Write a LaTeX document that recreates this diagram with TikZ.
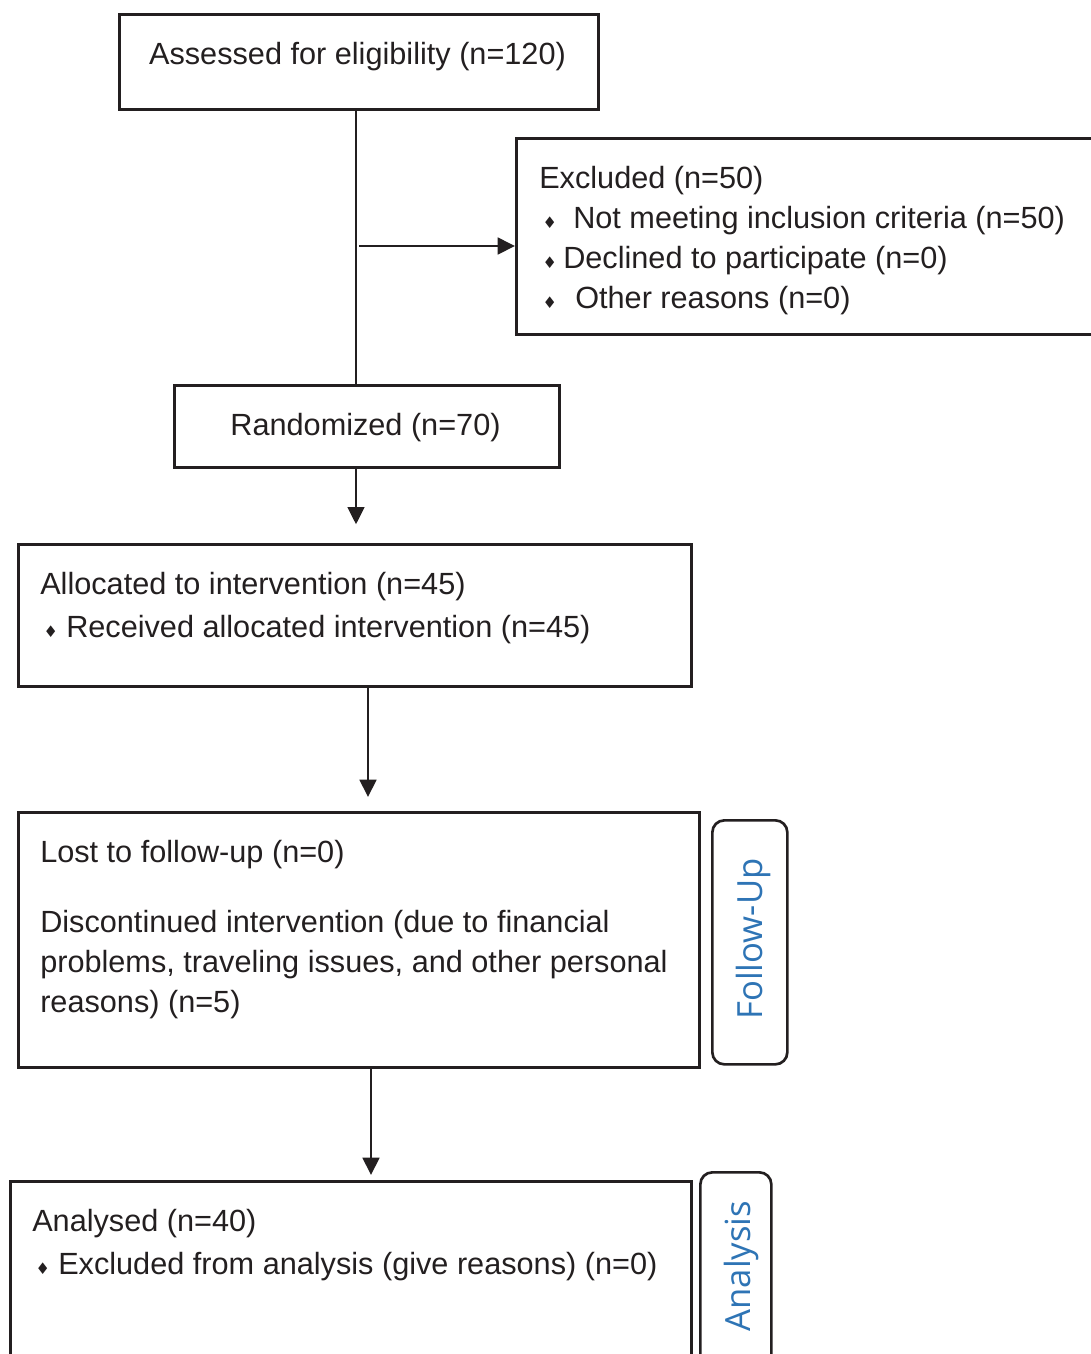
\documentclass[tikz,border=0pt]{standalone}
\usepackage{fontspec}
\setmainfont{Liberation Sans}
\newfontfamily\sidefont{Open Sans}
\newfontfamily\symfont{DejaVu Sans}
\usetikzlibrary{arrows.meta}
\definecolor{sideblue}{RGB}{46,116,181}
\definecolor{ink}{RGB}{35,31,32}
\newcommand{\dia}[1]{\makebox[#1][l]{\hspace{2.5pt}{\symfont\fontsize{12pt}{12pt}\selectfont ♦}}}
\tikzset{
  box/.style={draw=ink, line width=2pt, inner sep=0pt, anchor=north west},
  sidebox/.style={draw=ink, line width=2pt, rounded corners=9pt, inner sep=0pt, anchor=north west},
  txt/.style={inner sep=0pt, anchor=base west, align=left, text=ink, font=\fontsize{23pt}{30pt}\selectfont},
  sidetxt/.style={inner sep=0pt, rotate=90, text=sideblue, font=\sidefont\fontsize{26pt}{26pt}\selectfont},
  arr/.style={draw=ink, line width=2pt, -{Triangle[length=13pt,width=12.5pt]}},
  link/.style={draw=ink, line width=2pt}
}
\begin{document}
\begin{tikzpicture}[x=0.75pt,y=0.75pt,yscale=-1,xscale=1]
        \useasboundingbox (0,0) rectangle (1091,1354);
        \clip (0,0) rectangle (1091,1354);
        %Shape: Rectangle
        \node[box, minimum width=359.25pt, minimum height=71.25pt] (assess) at (118,13) {};
        %Shape: Rectangle
        \node[box, minimum width=450pt, minimum height=147pt] (excl) at (515,137) {};
        %Shape: Rectangle
        \node[box, minimum width=288.75pt, minimum height=61.5pt] (rand) at (173,384) {};
        %Shape: Rectangle
        \node[box, minimum width=504.75pt, minimum height=106.5pt] (alloc) at (17,543) {};
        %Shape: Rectangle
        \node[box, minimum width=510.75pt, minimum height=191.25pt] (lost) at (17,811) {};
        %Shape: Rectangle
        \node[box, minimum width=510.75pt, minimum height=187.5pt] (anal) at (9,1180) {};
        %Shape: Rounded Rect
        \node[sidebox, minimum width=56.25pt, minimum height=183pt] (follow) at (711,819) {};
        %Shape: Rounded Rect
        \node[sidebox, minimum width=53.25pt, minimum height=187.5pt] (analside) at (699,1171) {};

        %Straight Lines
        \coordinate (trunk) at (356,246);
        \coordinate (mid2) at (368,0);
        \coordinate (mid3) at (371,0);
        \draw[link] (assess.south -| trunk) -- (rand.north -| trunk);
        \draw[arr] ([xshift=2.25pt]trunk) -- (trunk -| excl.west);
        \draw[arr, shorten >=14pt] (rand.south -| trunk) -- (alloc.north -| trunk);
        \draw[arr, shorten >=10.5pt] (alloc.south -| mid2) -- (lost.north -| mid2);
        \draw[arr, shorten >=3.75pt] (lost.south -| mid3) -- (anal.north -| mid3);

        % Text Node
        \node[txt, anchor=base] (assesstxt) at (357.5,64) {Assessed for eligibility (n=120)};
        % Text Node
        \node[txt] (excltxt) at (539,308) {Excluded (n=50)\\\dia{25.5pt}Not meeting inclusion criteria (n=50)\\\dia{18pt}Declined to participate (n=0)\\\dia{27pt}Other reasons (n=0)};
        % Text Node
        \node[txt, anchor=base] (randtxt) at (365.5,435) {Randomized (n=70)};
        % Text Node
        \node[txt] (alloctxt) at (40,637) {Allocated to intervention (n=45)\\[2.25pt]\dia{19.5pt}Received allocated intervention (n=45)};
        % Text Node
        \node[txt] (losttxt) at (40,1012) {Lost to follow-up (n=0)\\[22.5pt]Discontinued intervention (due to financial\\problems, traveling issues, and other personal\\reasons) (n=5)};
        % Text Node
        \node[txt] (analtxt) at (32,1274) {Analysed (n=40)\\[2.25pt]\dia{19.5pt}Excluded from analysis (give reasons) (n=0)};
        % Text Node
        \node[sidetxt] (followtxt) at (753,939) {Follow-Up};
        % Text Node
        \node[sidetxt] (analsidetxt) at (741,1266) {Analysis};
\end{tikzpicture}
\end{document}
